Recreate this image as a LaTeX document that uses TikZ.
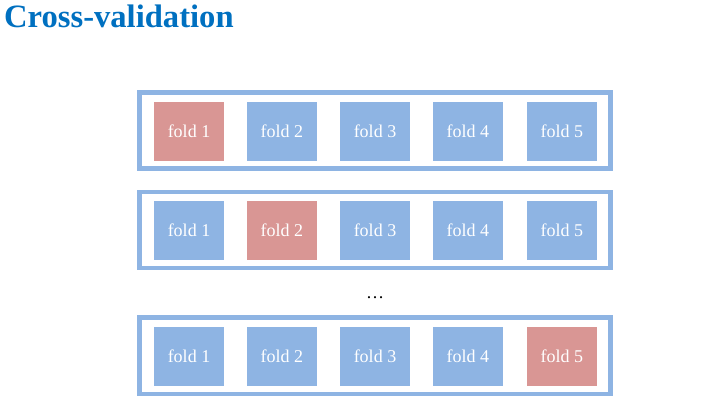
\documentclass[tikz,border=0pt]{standalone}
\usepackage{fontspec}
\setmainfont{Liberation Serif}
\definecolor{foldblue}{HTML}{8EB4E3}
\definecolor{foldred}{HTML}{D99694}
\definecolor{titleblue}{HTML}{0070C0}
\begin{document}
\begin{tikzpicture}[x=1pt,y=-1pt,
  frame/.style={draw=foldblue, line width=4.5pt},
  fold/.style={minimum width=70pt, minimum height=59pt, inner sep=0pt, text=white, font=\fontsize{18}{20}\selectfont},
  tr/.style={fold, fill=foldblue},
  te/.style={fold, fill=foldred}]
\useasboundingbox (0,0) rectangle (724,410);
\node[anchor=base west, inner sep=0pt, text=titleblue, font=\fontsize{32.6}{36}\selectfont\bfseries] (title) at (4,27.5) {Cross-validation};
% row frames
\draw[frame] (139.5,92.5) rectangle (610.5,168.5);
\draw[frame] (139.5,192) rectangle (610.5,268);
\draw[frame] (139.5,317.5) rectangle (610.5,394);
% row 1
\node[te] (a1) at (189,131.3) {fold 1};
\node[tr] (a2) at (281.8,131.3) {fold 2};
\node[tr] (a3) at (375,131.3) {fold 3};
\node[tr] (a4) at (467.8,131.3) {fold 4};
\node[tr] (a5) at (561.8,131.3) {fold 5};
% row 2
\node[tr] (b1) at (189,230.5) {fold 1};
\node[te] (b2) at (281.8,230.5) {fold 2};
\node[tr] (b3) at (375,230.5) {fold 3};
\node[tr] (b4) at (467.8,230.5) {fold 4};
\node[tr] (b5) at (561.8,230.5) {fold 5};
% dots
\node[font=\fontsize{18}{20}\selectfont] (dots) at (375,298) {\dots};
% row 3
\node[tr] (c1) at (189,356) {fold 1};
\node[tr] (c2) at (281.8,356) {fold 2};
\node[tr] (c3) at (375,356) {fold 3};
\node[tr] (c4) at (467.8,356) {fold 4};
\node[te] (c5) at (561.8,356) {fold 5};
\end{tikzpicture}
\end{document}
